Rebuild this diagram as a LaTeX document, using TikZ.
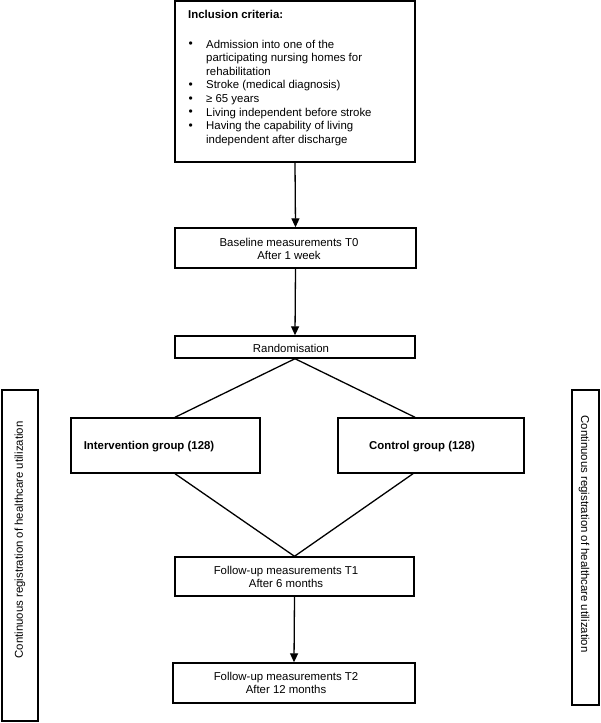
\documentclass[tikz,border=0pt]{standalone}
\usepackage{fontspec}
\setmainfont{Liberation Sans}
\usetikzlibrary{arrows.meta}
\newcommand{\bul}{\makebox[18pt][l]{\hspace{0.5pt}\raisebox{0.2pt}{\fontsize{12}{12}\selectfont\textbullet}}}
\newcommand{\ind}{\hspace*{18pt}}
\begin{document}
\begin{tikzpicture}[x=1pt,y=-1pt,
  box/.style={draw, line width=1.4pt, rectangle, inner sep=0pt},
  txt/.style={inner sep=0pt, align=center, font=\fontsize{11.4}{12.2}\selectfont},
  btxt/.style={inner sep=0pt, font=\fontsize{11.4}{12.2}\selectfont\bfseries},
  conn/.style={line width=1.3pt},
  arr/.style={line width=1.3pt, -{Triangle[length=9pt,width=8pt]}}]
\useasboundingbox (0,0) rectangle (600,723);
% boxes
\node[box, minimum width=240, minimum height=161] (incl) at (295,81.5) {};
\node[box, minimum width=241, minimum height=40] (base) at (295.5,248) {};
\node[box, minimum width=240, minimum height=22] (rand) at (295,347) {};
\node[box, minimum width=189, minimum height=55] (int) at (165.5,445.5) {};
\node[box, minimum width=186, minimum height=55] (ctrl) at (431,445.5) {};
\node[box, minimum width=239, minimum height=39] (fu1) at (294.5,576.5) {};
\node[box, minimum width=242, minimum height=40] (fu2) at (294,683) {};
\node[box, minimum width=36, minimum height=331] (lside) at (20,555.5) {};
\node[box, minimum width=27, minimum height=315] (rside) at (585.5,547.5) {};
% texts
\node[inner sep=0pt, anchor=north west, align=left, font=\fontsize{11.4}{13.6}\selectfont] (incltxt) at (188,10) {%
\textbf{Inclusion criteria:}\\[16pt]
\bul Admission into one of the\\
\ind participating nursing homes for\\
\ind rehabilitation\\
\bul Stroke (medical diagnosis)\\
\bul ≥ 65 years\\
\bul Living independent before stroke\\
\bul Having the capability of living\\
\ind independent after discharge};
\node[txt] (basetxt) at (289,249) {Baseline measurements T0\\After 1 week};
\node[txt] (randtxt) at (291,348) {Randomisation};
\node[btxt] (inttxt) at (149,447) {Intervention group (128)};
\node[btxt] (ctrltxt) at (422,447) {Control group (128)};
\node[txt] (fu1txt) at (286,577) {Follow-up measurements T1\\After 6 months};
\node[txt] (fu2txt) at (286,683) {Follow-up measurements T2\\After 12 months};
\node[txt, rotate=90] (ltxt) at (20,540) {Continuous registration of healthcare utilization};
\node[txt, rotate=-90] (rtxt) at (584,534) {Continuous registration of healthcare utilization};
% connectors
\draw[arr] (incl.south) -- (base.north);
\draw[arr] (base.south) -- (rand.north);
\draw[conn] (rand.south) -- ([xshift=9.5pt]int.north);
\draw[conn] (rand.south) -- ([xshift=-16pt]ctrl.north);
\draw[conn] ([xshift=9.5pt]int.south) -- (fu1.north);
\draw[conn] ([xshift=-18pt]ctrl.south) -- (fu1.north);
\draw[arr] (fu1.south) -- (fu2.north);
\end{tikzpicture}
\end{document}
